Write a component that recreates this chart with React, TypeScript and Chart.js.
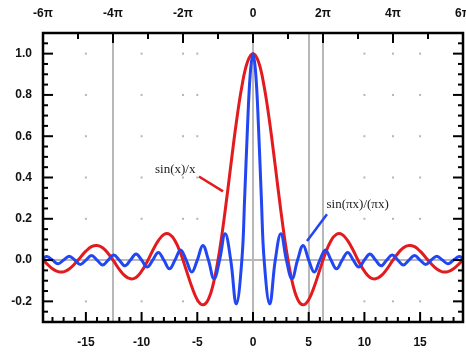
import React, { useEffect, useRef } from "react";
import { Chart, registerables } from "chart.js";

Chart.register(...registerables);

const PI = Math.PI;

// sin(x)/x
const redX = [
  -18.85, -18.5, -18, -17.5, -17, -16.5, -16, -15.5, -15, -14.5, -14, -13.5, -13, -12.5, -12, -11.5, -11, -10.5, -10,
  -9.5, -9, -8.5, -8, -7.5, -7, -6.5, -6, -5.5, -5, -4.5, -4, -3.5, -3, -2.5, -2, -1.5, -1, -0.5,
  0,
  0.5, 1, 1.5, 2, 2.5, 3, 3.5, 4, 4.5, 5, 5.5, 6, 6.5, 7, 7.5, 8, 8.5, 9, 9.5,
  10, 10.5, 11, 11.5, 12, 12.5, 13, 13.5, 14, 14.5, 15, 15.5, 16, 16.5, 17, 17.5, 18, 18.5, 18.85,
];
const redY = [
  0, -0.018, -0.042, -0.056, -0.057, -0.043, -0.018, 0.013, 0.043, 0.065, 0.071, 0.06, 0.032, -0.005, -0.045, -0.076, -0.091, -0.084, -0.054,
  -0.008, 0.046, 0.094, 0.124, 0.125, 0.094, 0.033, -0.047, -0.128, -0.192, -0.217, -0.189, -0.1, 0.047, 0.239, 0.455, 0.665, 0.841, 0.959,
  1,
  0.959, 0.841, 0.665, 0.455, 0.239, 0.047, -0.1, -0.189, -0.217, -0.192, -0.128, -0.047, 0.033, 0.094, 0.125, 0.124, 0.094, 0.046, -0.008,
  -0.054, -0.084, -0.091, -0.076, -0.045, -0.005, 0.032, 0.06, 0.071, 0.065, 0.043, 0.013, -0.018, -0.043, -0.057, -0.056, -0.042, -0.018, 0,
];

// sin(pi x)/(pi x)
const blueX = [
  -18.85, -18.5, -18, -17.5, -17, -16.5, -16, -15.5, -15, -14.5, -14, -13.5, -13, -12.5, -12, -11.5, -11, -10.5, -10,
  -9.5, -9, -8.5, -8, -7.5, -7, -6.5, -6, -5.5, -5, -4.5, -4, -3.5, -3, -2.5, -2, -1.5, -1, -0.75, -0.5, -0.25,
  0,
  0.25, 0.5, 0.75, 1, 1.5, 2, 2.5, 3, 3.5, 4, 4.5, 5, 5.5, 6, 6.5, 7, 7.5, 8, 8.5, 9, 9.5,
  10, 10.5, 11, 11.5, 12, 12.5, 13, 13.5, 14, 14.5, 15, 15.5, 16, 16.5, 17, 17.5, 18, 18.5, 18.85,
];
const blueY = [
  0.008, 0.017, 0, -0.018, 0, 0.019, 0, -0.021, 0, 0.022, 0, -0.024, 0, 0.025, 0, -0.028, 0, 0.03, 0,
  -0.034, 0, 0.037, 0, -0.042, 0, 0.049, 0, -0.058, 0, 0.071, 0, -0.091, 0, 0.127, 0, -0.212, 0, 0.3, 0.637, 0.9,
  1,
  0.9, 0.637, 0.3, 0, -0.212, 0, 0.127, 0, -0.091, 0, 0.071, 0, -0.058, 0, 0.049, 0, -0.042, 0, 0.037, 0, -0.034,
  0, 0.03, 0, -0.028, 0, 0.025, 0, -0.024, 0, 0.022, 0, -0.021, 0, 0.019, 0, -0.018, 0, 0.017, 0.008,
];

const bottomTicks = [-15, -10, -5, 0, 5, 10, 15];
const topTickValues = [-6 * PI, -4 * PI, -2 * PI, 0, 2 * PI, 4 * PI, 6 * PI];
const topTickLabels = ["-6π", "-4π", "-2π", "0", "2π", "4π", "6π"];
const yTicks = [-0.2, 0, 0.2, 0.4, 0.6, 0.8, 1.0];

const refLinesX = [-4 * PI, 0, 5, 2 * PI];
const refLinesY = [0];
const dotX = [-15, -10, -5, 10, 15, -4 * PI, -2 * PI, 4 * PI];
const dotY = [-0.2, 0.2, 0.4, 0.6, 0.8, 1.0];

const redLabel = { text: "sin(x)/x", x: -8.8, y: 0.44 };
const blueLabel = { text: "sin(πx)/(πx)", x: 6.6, y: 0.27 };
const redPointerX = [-4.85, -2.69];
const redPointerY = [0.405, 0.333];
const bluePointerX = [6.64, 4.85];
const bluePointerY = [0.222, 0.092];

const RED = "#e31b1f";
const BLUE = "#2146f2";

const zip = (xs: number[], ys: number[]) => xs.map((x, i) => ({ x, y: ys[i] }));

const decorPlugin = {
  id: "decor",
  beforeDatasetsDraw(chart: any) {
    const { ctx, chartArea: a, scales } = chart;
    const sx = scales.x;
    const sy = scales.y;
    ctx.save();
    ctx.fillStyle = "#b5b5b5";
    dotX.forEach((dx) =>
      dotY.forEach((dy) => {
        ctx.fillRect(sx.getPixelForValue(dx) - 1, sy.getPixelForValue(dy) - 1, 2, 2);
      })
    );
    ctx.strokeStyle = "#b8b8b8";
    ctx.lineWidth = 2;
    refLinesX.forEach((v) => {
      const p = Math.round(sx.getPixelForValue(v));
      ctx.beginPath();
      ctx.moveTo(p, a.top);
      ctx.lineTo(p, a.bottom);
      ctx.stroke();
    });
    refLinesY.forEach((v) => {
      const p = Math.round(sy.getPixelForValue(v));
      ctx.beginPath();
      ctx.moveTo(a.left, p);
      ctx.lineTo(a.right, p);
      ctx.stroke();
    });
    ctx.restore();
  },
  afterDatasetsDraw(chart: any) {
    const { ctx, chartArea: a, scales } = chart;
    const sx = scales.x;
    const sy = scales.y;
    ctx.save();
    ctx.fillStyle = "#222";
    ctx.font = '13px "Liberation Serif", "DejaVu Serif", serif';
    ctx.textBaseline = "middle";
    ctx.textAlign = "left";
    [redLabel, blueLabel].forEach((l) => {
      ctx.fillText(l.text, sx.getPixelForValue(l.x), sy.getPixelForValue(l.y));
    });
    ctx.strokeStyle = "#000";
    ctx.lineWidth = 2.5;
    ctx.strokeRect(a.left, a.top, a.right - a.left, a.bottom - a.top);
    ctx.lineWidth = 2;
    const tick = (x1: number, y1: number, x2: number, y2: number) => {
      ctx.beginPath();
      ctx.moveTo(x1, y1);
      ctx.lineTo(x2, y2);
      ctx.stroke();
    };
    for (let v = -18; v <= 18; v++) {
      const p = sx.getPixelForValue(v);
      const len = v % 5 === 0 ? 10 : 5;
      tick(p, a.bottom, p, a.bottom - len);
    }
    for (let k = -5; k <= 5; k++) {
      const p = sx.getPixelForValue(k * PI);
      const len = k % 2 === 0 ? 10 : 6;
      tick(p, a.top, p, a.top + len);
    }
    for (let k = -5; k <= 21; k++) {
      const v = k * 0.05;
      const p = sy.getPixelForValue(v);
      const len = k % 4 === 0 ? 10 : 5;
      tick(a.left, p, a.left + len, p);
      tick(a.right, p, a.right - len, p);
    }
    ctx.restore();
  },
};

export default function App() {
  const ref = useRef<HTMLCanvasElement>(null);
  useEffect(() => {
    if (!ref.current) return;
    const tickFont = { family: '"Liberation Sans", Arial, sans-serif', size: 12, weight: "bold" as const };
    const fitH = (h: number) => (s: any) => {
      s.height = h;
      s.paddingLeft = 0;
      s.paddingRight = 0;
    };
    const chart = new Chart(ref.current, {
      type: "line",
      data: {
        datasets: [
          {
            label: "sin(πx)/(πx)",
            data: zip(blueX, blueY),
            borderColor: BLUE,
            borderWidth: 3,
            pointRadius: 0,
            tension: 0.4,
            fill: false,
          },
          {
            label: "sin(x)/x",
            data: zip(redX, redY),
            borderColor: RED,
            borderWidth: 3,
            pointRadius: 0,
            tension: 0.4,
            fill: false,
          },
          {
            label: "redPointer",
            data: zip(redPointerX, redPointerY),
            borderColor: RED,
            borderWidth: 2.5,
            pointRadius: 0,
            tension: 0,
          },
          {
            label: "bluePointer",
            data: zip(bluePointerX, bluePointerY),
            borderColor: BLUE,
            borderWidth: 2.5,
            pointRadius: 0,
            tension: 0,
          },
        ],
      },
      options: {
        responsive: false,
        animation: false,
        layout: { padding: { left: 0, right: 3, top: 0, bottom: 0 } },
        plugins: { legend: { display: false }, tooltip: { enabled: false } },
        scales: {
          x: {
            type: "linear",
            position: "bottom",
            min: -6 * PI,
            max: 6 * PI,
            grid: { display: false, drawTicks: false },
            border: { display: false },
            afterBuildTicks: (s: any) => {
              s.ticks = bottomTicks.map((v) => ({ value: v }));
            },
            afterFit: fitH(32),
            ticks: {
              autoSkip: false,
              maxRotation: 0,
              padding: 13,
              color: "#111",
              font: tickFont,
              callback: (v: any) => String(v),
            },
          },
          x2: {
            type: "linear",
            position: "top",
            min: -6 * PI,
            max: 6 * PI,
            grid: { display: false, drawTicks: false },
            border: { display: false },
            afterBuildTicks: (s: any) => {
              s.ticks = topTickValues.map((v) => ({ value: v }));
            },
            afterFit: fitH(33),
            ticks: {
              autoSkip: false,
              maxRotation: 0,
              padding: 12,
              color: "#111",
              font: tickFont,
              callback: (_v: any, i: number) => topTickLabels[i],
            },
          },
          y: {
            type: "linear",
            min: -0.3,
            max: 1.1,
            grid: { display: false, drawTicks: false },
            border: { display: false },
            afterBuildTicks: (s: any) => {
              s.ticks = yTicks.map((v) => ({ value: v }));
            },
            afterFit: (s: any) => {
              s.width = 43;
              s.paddingTop = 0;
              s.paddingBottom = 0;
            },
            ticks: {
              autoSkip: false,
              padding: 11,
              color: "#111",
              font: tickFont,
              callback: (v: any) => Number(v).toFixed(1),
            },
          },
        },
      },
      plugins: [decorPlugin],
    });
    return () => chart.destroy();
  }, []);
  return (
    <canvas
      ref={ref}
      width={466}
      height={354}
      style={{ position: "absolute", left: 0, top: 0, width: 466, height: 354, background: "#fff" }}
    />
  );
}
